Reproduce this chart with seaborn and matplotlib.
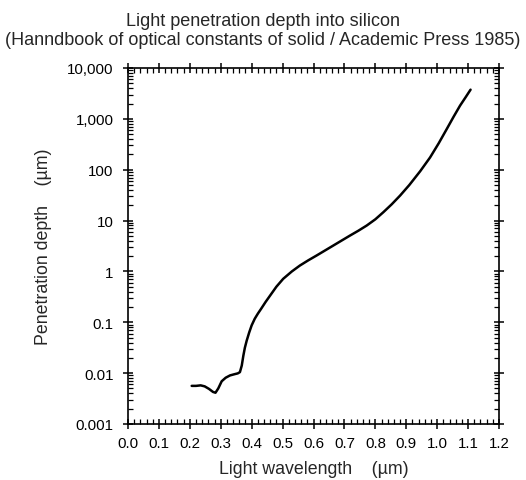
import numpy as np
import pandas as pd
import matplotlib
matplotlib.use("Agg")
import matplotlib.pyplot as plt
import seaborn as sns
from matplotlib.ticker import FixedLocator, FixedFormatter, LogLocator, MultipleLocator, NullFormatter

# Data
wavelength_um = [0.206, 0.220, 0.235, 0.248, 0.262, 0.275, 0.283, 0.292, 0.303, 0.316,
                 0.330, 0.345, 0.355, 0.362, 0.368, 0.373, 0.378, 0.384, 0.392, 0.400,
                 0.410, 0.420, 0.430, 0.445, 0.459, 0.480, 0.502, 0.530, 0.556, 0.583,
                 0.610, 0.637, 0.664, 0.691, 0.718, 0.745, 0.772, 0.800, 0.826, 0.853,
                 0.880, 0.910, 0.945, 0.977, 1.005, 1.031, 1.053, 1.074, 1.092, 1.108]
depth_um = [0.00562, 0.00562, 0.00575, 0.00550, 0.00490, 0.00427, 0.00412, 0.00501, 0.00692, 0.00813,
            0.00902, 0.00955, 0.00989, 0.01047, 0.01413, 0.02188, 0.0316, 0.0437, 0.0631, 0.0871,
            0.1175, 0.1479, 0.182, 0.251, 0.331, 0.501, 0.716, 1.0, 1.306, 1.652,
            2.056, 2.576, 3.228, 4.046, 5.070, 6.31, 7.98, 10.59, 14.62, 20.9,
            30.97, 50.1, 93.3, 174.0, 331.0, 631.0, 1096.0, 1820.0, 2660.0, 3750.0]

x_ticks = [0.0, 0.1, 0.2, 0.3, 0.4, 0.5, 0.6, 0.7, 0.8, 0.9, 1.0, 1.1, 1.2]
x_tick_labels = ["0.0", "0.1", "0.2", "0.3", "0.4", "0.5", "0.6", "0.7", "0.8", "0.9", "1.0", "1.1", "1.2"]
y_ticks = [0.001, 0.01, 0.1, 1, 10, 100, 1000, 10000]
y_tick_labels = ["0.001", "0.01", "0.1", "1", "10", "100", "1,000", "10,000"]

title_text = "Light penetration depth into silicon\n(Hanndbook of optical constants of solid / Academic Press 1985)"
x_label = "Light wavelength    (\u00b5m)"
y_label = "Penetration depth    (\u00b5m)"

sns.set_style("ticks")
plt.rcParams['font.family'] = ['Liberation Sans', 'DejaVu Sans']

df = pd.DataFrame({"wl": wavelength_um, "depth": depth_um})

fig = plt.figure(figsize=(5.26, 4.81), dpi=100)
ax = fig.add_axes([128/526, 1-425/481, (499-128)/526, (425-69)/481])

sns.lineplot(data=df, x="wl", y="depth", sort=False, estimator=None,
             color="black", linewidth=1.8, ax=ax)

ax.set_yscale("log")
ax.set_xlim(0.0, 1.2)
ax.set_ylim(0.001, 10000)

ax.xaxis.set_major_locator(FixedLocator(x_ticks))
ax.xaxis.set_major_formatter(FixedFormatter(x_tick_labels))
ax.xaxis.set_minor_locator(MultipleLocator(0.02))
ax.yaxis.set_major_locator(FixedLocator(y_ticks))
ax.yaxis.set_major_formatter(FixedFormatter(y_tick_labels))
ax.yaxis.set_minor_locator(LogLocator(base=10, subs=np.arange(2, 10), numticks=20))
ax.yaxis.set_minor_formatter(NullFormatter())

for sp in ax.spines.values():
    sp.set_visible(True)
    sp.set_linewidth(1.2)
    sp.set_color("black")

ax.tick_params(which="major", direction="inout", length=7, width=1.1, color="black",
               top=True, right=True, labelsize=10.8, labelcolor="black")
ax.tick_params(axis="x", which="major", pad=5.5)
ax.tick_params(axis="y", which="major", pad=6.8)
ax.tick_params(which="minor", direction="in", length=3.5, width=0.9, color="black",
               top=True, right=True)

ax.set_xlabel(x_label, fontsize=12.8, labelpad=7)
ax.set_ylabel(y_label, fontsize=12.8, labelpad=11)

fig.text(0.5, 1 - 31/481, title_text, ha="center", va="center", fontsize=13.0,
         linespacing=1.2)

fig.savefig("out.png", dpi=100)
